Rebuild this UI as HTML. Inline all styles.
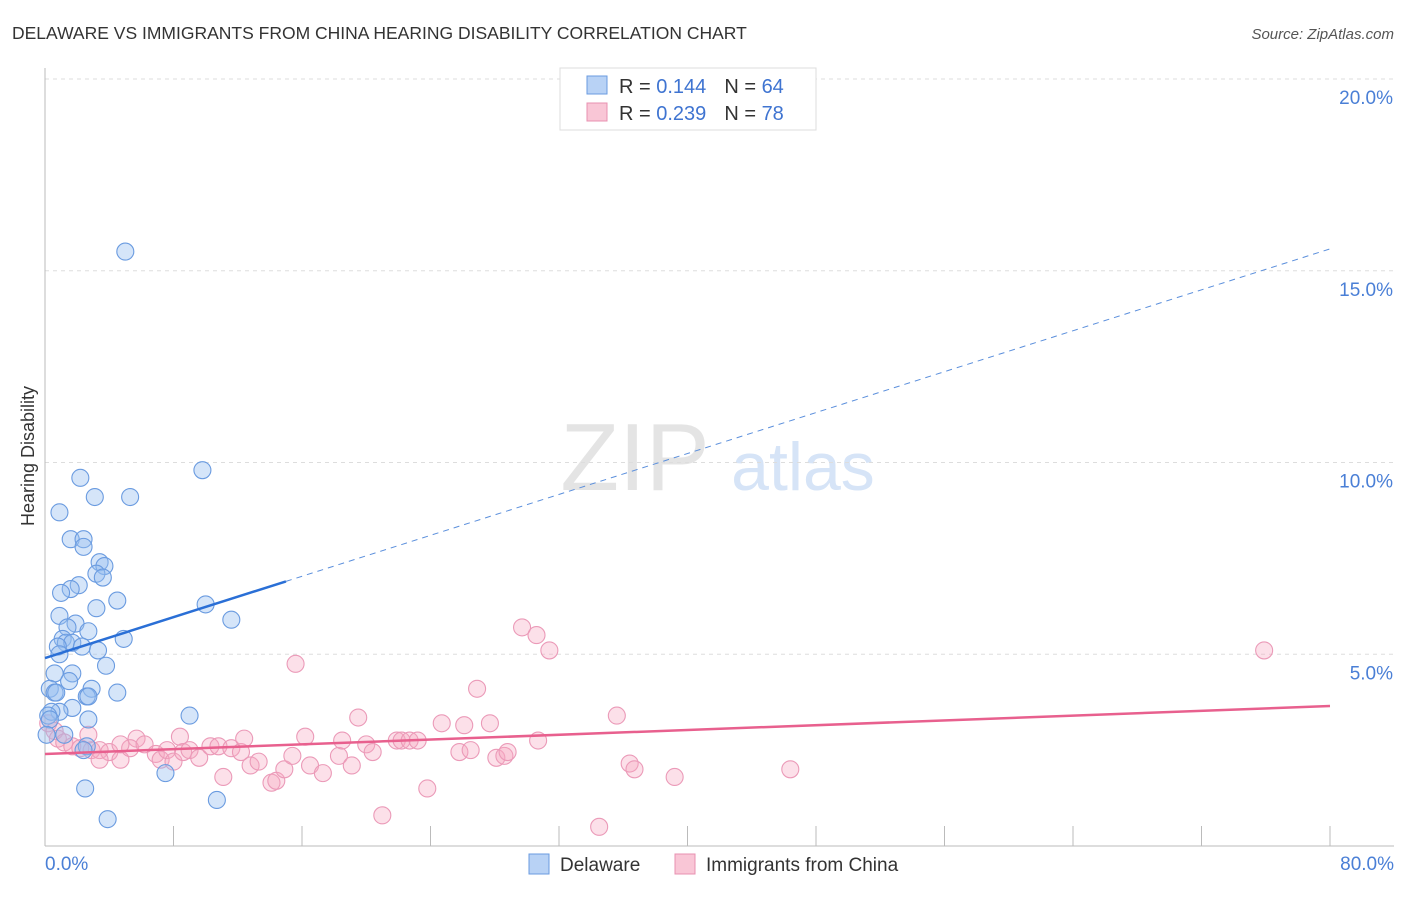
<!DOCTYPE html>
<html><head><meta charset="utf-8"><style>
body{margin:0;background:#fff;font-family:"Liberation Sans",sans-serif;}
svg text{font-family:"Liberation Sans",sans-serif;}
</style></head><body>
<svg id="c" width="1406" height="892" viewBox="0 0 1406 892">
<text x="12" y="39" font-size="17.5" fill="#333">DELAWARE VS IMMIGRANTS FROM CHINA HEARING DISABILITY CORRELATION CHART</text>
<text x="1394" y="39" font-size="15" fill="#555" font-style="italic" text-anchor="end">Source: ZipAtlas.com</text>
<text transform="translate(34,456) rotate(-90)" font-size="18" fill="#333" text-anchor="middle">Hearing Disability</text>
<g>
<text x="635" y="490" font-size="96" fill="#e4e4e4" font-family="Liberation Serif" text-anchor="middle">ZIP</text>
<text x="803" y="490" font-size="68" fill="#d6e4f7" text-anchor="middle">atlas</text>
</g>
<g id="grid"></g><g id="axes"></g><g id="pts"></g><g id="lines"></g>
<g>
<rect x="560" y="68" width="256" height="62" fill="#fff" stroke="#ddd"/>
<rect x="587" y="76" width="20" height="18" fill="#b8d2f5" stroke="#6a9be0"/>
<rect x="587" y="103" width="20" height="18" fill="#f9c6d6" stroke="#e890b0"/>
<text x="619" y="93" font-size="20" fill="#333">R = <tspan fill="#3f74d1">0.144</tspan><tspan dx="18">N = </tspan><tspan fill="#3f74d1">64</tspan></text>
<text x="619" y="120" font-size="20" fill="#333">R = <tspan fill="#3f74d1">0.239</tspan><tspan dx="18">N = </tspan><tspan fill="#3f74d1">78</tspan></text>
</g>
<g>
<rect x="529" y="854" width="20" height="20" fill="#b8d2f5" stroke="#6a9be0"/>
<text x="560" y="871" font-size="19" fill="#333">Delaware</text>
<rect x="675" y="854" width="20" height="20" fill="#f9c6d6" stroke="#e890b0"/>
<text x="706" y="871" font-size="19" fill="#333">Immigrants from China</text>
</g>
</svg>
<script>
const yTicks=[5,10,15,20];
const xTickLabels=["0.0%","80.0%"];
const blueX=[5.0,2.2,9.8,3.1,5.3,0.9,1.6,2.4,2.4,3.4,3.7,3.2,3.6,2.1,1.6,1.0,4.5,3.2,10.0,11.6,0.9,1.9,1.4,2.7,4.9,1.1,1.3,1.7,2.3,3.3,0.8,0.9,3.8,0.6,1.7,1.5,0.3,0.6,0.7,2.9,2.6,4.5,2.7,1.7,0.9,0.4,0.2,0.3,2.7,9.0,1.2,2.6,2.4,7.5,2.5,10.7,3.9,0.1];
const blueY=[15.5,9.6,9.8,9.1,9.1,8.7,8.0,8.0,7.8,7.4,7.3,7.1,7.0,6.8,6.7,6.6,6.4,6.2,6.3,5.9,6.0,5.8,5.7,5.6,5.4,5.4,5.3,5.3,5.2,5.1,5.2,5.0,4.7,4.5,4.5,4.3,4.1,4.0,4.0,4.1,3.9,4.0,3.9,3.6,3.5,3.5,3.4,3.3,3.3,3.4,2.9,2.6,2.5,1.9,1.5,1.2,0.7,2.9];
const pinkX=[0.2,0.6,0.8,1.2,1.7,2.2,2.9,3.4,4.0,4.7,5.7,5.3,6.2,6.9,7.2,7.6,8.0,8.4,8.6,9.0,9.6,10.3,10.8,11.1,11.6,12.2,12.4,12.8,13.3,14.1,14.4,14.9,15.4,15.6,16.2,16.5,17.3,18.3,18.5,19.1,19.5,20.0,20.4,21.0,21.9,22.2,22.7,23.2,23.8,24.7,25.8,26.1,26.5,26.9,27.7,28.1,28.6,28.8,29.7,30.6,30.7,31.4,34.5,35.6,36.4,36.7,39.2,46.4,75.9,3.4,4.7,2.7];
const pinkY=[3.2,3.0,2.8,2.7,2.6,2.55,2.5,2.5,2.45,2.25,2.8,2.55,2.65,2.4,2.25,2.5,2.2,2.85,2.45,2.5,2.3,2.6,2.6,1.8,2.55,2.45,2.8,2.1,2.2,1.65,1.7,2.0,2.35,4.75,2.85,2.1,1.9,2.35,2.75,2.1,3.35,2.65,2.45,0.8,2.75,2.75,2.75,2.75,1.5,3.2,2.45,3.15,2.5,4.1,3.2,2.3,2.35,2.45,5.7,5.5,2.75,5.1,0.5,3.4,2.15,2.0,1.8,2.0,5.1,2.25,2.65,2.9];
const blueTrend=[4.9,6.9,15.57];
const pinkTrend=[2.4,3.65];
const NS="http://www.w3.org/2000/svg";
const X=v=>45+v/80*1285, Y=v=>846-v*38.35;
function mk(p,tag,a){const e=document.createElementNS(NS,tag);for(const k in a)e.setAttribute(k,a[k]);document.getElementById(p).appendChild(e);return e;}
yTicks.forEach(t=>{
 const g=mk('grid','line',{x1:45,x2:1394,y1:Y(t),y2:Y(t),stroke:'#ddd','stroke-dasharray':'4,4'});
 
 
 const l=mk('grid','text',{x:1393,y:Y(t)+25,'font-size':19,fill:'#4a7fd6','text-anchor':'end'});l.textContent=t.toFixed(1)+'%';
 
 
});
const ax=mk('axes','line',{x1:45,x2:45,y1:68,y2:846,stroke:'#bbb'});


const bx=mk('axes','line',{x1:45,x2:1394,y1:846,y2:846,stroke:'#bbb'});


for(let i=0;i<=80;i+=8){const t=mk('axes','line',{x1:X(i),x2:X(i),y1:826,y2:846,stroke:'#bbb'});
 
 }
const xl0=mk('axes','text',{x:45,y:870,'font-size':19,fill:'#4a7fd6'});xl0.textContent=xTickLabels[0];


const xl1=mk('axes','text',{x:1394,y:870,'font-size':19,fill:'#4a7fd6','text-anchor':'end'});xl1.textContent=xTickLabels[1];


pinkX.forEach((v,i)=>{const c=mk('pts','circle',{cx:X(v),cy:Y(pinkY[i]),r:8.5,fill:'rgba(245,165,192,0.35)',stroke:'#eb9ab8','stroke-width':1.1});
 
 });
blueX.forEach((v,i)=>{const c=mk('pts','circle',{cx:X(v),cy:Y(blueY[i]),r:8.5,fill:'rgba(150,190,240,0.4)',stroke:'#6a9be0','stroke-width':1.1});
 
 });
const b1=mk('lines','line',{x1:X(0),y1:Y(blueTrend[0]),x2:X(15),y2:Y(blueTrend[1]),stroke:'#2a6fd6','stroke-width':2.5});


const b2=mk('lines','line',{x1:X(15),y1:Y(blueTrend[1]),x2:X(80),y2:Y(blueTrend[2]),stroke:'#5b8fdc','stroke-width':1,'stroke-dasharray':'6,5'});


const p1=mk('lines','line',{x1:X(0),y1:Y(pinkTrend[0]),x2:X(80),y2:Y(pinkTrend[1]),stroke:'#e8608e','stroke-width':2.5});


</script>
</body></html>
